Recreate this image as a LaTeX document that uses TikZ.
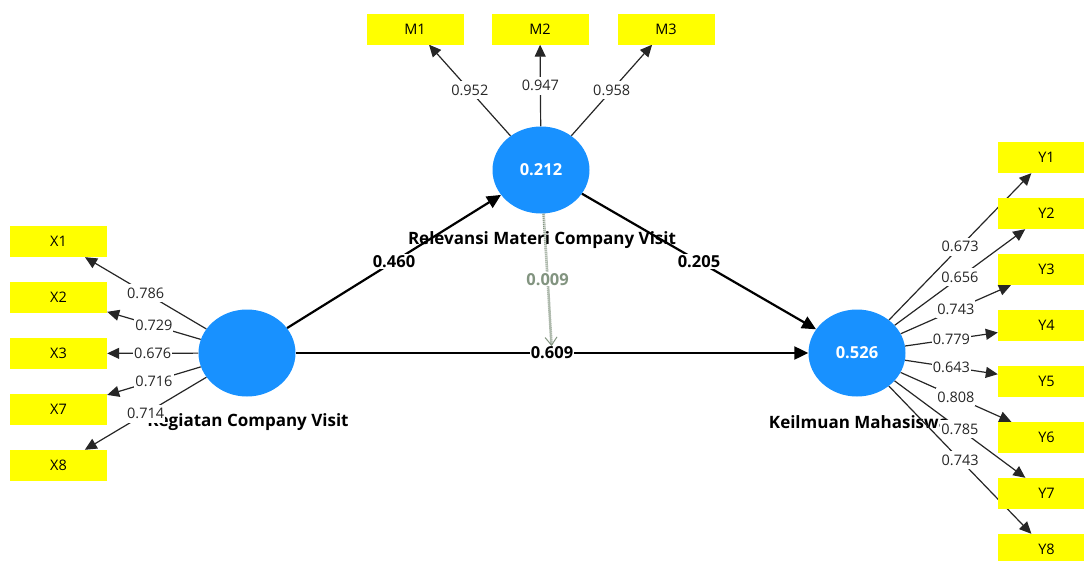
\documentclass[tikz,border=0pt]{standalone}
\usepackage{fontspec}
\setmainfont{Open Sans}
\usetikzlibrary{arrows.meta,calc,shapes.geometric}
\definecolor{lvblue}{RGB}{24,145,255}
\definecolor{indyellow}{RGB}{255,255,0}
\definecolor{modgray}{RGB}{130,148,128}
\pgfdeclarelayer{names}
\pgfdeclarelayer{edges}
\pgfsetlayers{names,edges,main}
\tikzset{
  ind/.style={rectangle, fill=indyellow, minimum width=97pt, minimum height=31pt, inner sep=0pt, font=\fontsize{14.5}{16}\selectfont},
  lv/.style={ellipse, fill=lvblue, minimum width=97pt, minimum height=87pt, inner sep=0pt, text=white, font=\bfseries\fontsize{16.5}{18}\selectfont},
  lvname/.style={font=\bfseries\fontsize{17}{19}\selectfont},
  load/.style={draw=black!85, line width=1.2pt, -{Triangle[length=12pt,width=11pt]}},
  loadlbl/.style={fill=white, inner sep=1pt, minimum height=18pt, font=\fontsize{14.5}{16}\selectfont, text=black!85},
  pathc/.style={draw=black, line width=2.2pt, -{Triangle[length=14pt,width=13pt]}},
  pathlbl/.style={fill=white, inner sep=1pt, font=\bfseries\fontsize{16.5}{18}\selectfont},
  modarrow/.style={draw=modgray, line width=2.6pt, dash pattern=on 1.1pt off 0.9pt, shorten >=7pt, -{Straight Barb[length=8pt,width=12pt,line width=1pt]}},
  modlbl/.style={fill=white, inner sep=1pt, text=modgray, font=\bfseries\fontsize{16.5}{18}\selectfont}
}
\begin{document}
\begin{tikzpicture}[x=1pt,y=-1pt]
\clip (0,0) rectangle (1084,560);
% latent variables
\node[lv] (K) at (247,353) {};
\node[lv] (R) at (541,170) {0.212};
\node[lv] (KM) at (857,353) {0.526};
% indicators
\node[ind] (M1) at (415,29) {M1};
\node[ind] (M2) at (540,29) {M2};
\node[ind] (M3) at (666,29) {M3};
\node[ind] (X1) at (58.5,241.5) {X1};
\node[ind] (X2) at (58.5,297.5) {X2};
\node[ind] (X3) at (58.5,353.5) {X3};
\node[ind] (X7) at (58.5,409.5) {X7};
\node[ind] (X8) at (58.5,465.5) {X8};
\node[ind] (Y1) at (1046.5,157.5) {Y1};
\node[ind] (Y2) at (1046.5,213.5) {Y2};
\node[ind] (Y3) at (1046.5,269.5) {Y3};
\node[ind] (Y4) at (1046.5,325.5) {Y4};
\node[ind] (Y5) at (1046.5,381.5) {Y5};
\node[ind] (Y6) at (1046.5,437.5) {Y6};
\node[ind] (Y7) at (1046.5,493.5) {Y7};
\node[ind] (Y8) at (1046.5,549.5) {Y8};
% latent names
\begin{pgfonlayer}{names}
\node[lvname] (Kname) at (248,422) {Kegiatan Company Visit};
\node[lvname] (Rname) at (542,240) {Relevansi Materi Company Visit};
\node[lvname] (KMname) at (859,422) {Keilmuan Mahasiswa};
\end{pgfonlayer}
% edges
\begin{pgfonlayer}{edges}
\draw[load] (R) -- node[loadlbl]{0.952} (M1);
\draw[load] (R) -- node[loadlbl]{0.947} (M2);
\draw[load] (R) -- node[loadlbl]{0.958} (M3);
\draw[load] (K) -- node[loadlbl]{0.786} (X1);
\draw[load] (K) -- node[loadlbl]{0.729} (X2);
\draw[load] (K) -- node[loadlbl]{0.676} (X3);
\draw[load] (K) -- node[loadlbl]{0.716} (X7);
\draw[load] (K) -- node[loadlbl]{0.714} (X8);
\draw[load] (KM) -- node[loadlbl]{0.673} (Y1);
\draw[load] (KM) -- node[loadlbl]{0.656} (Y2);
\draw[load] (KM) -- node[loadlbl]{0.743} (Y3);
\draw[load] (KM) -- node[loadlbl]{0.779} (Y4);
\draw[load] (KM) -- node[loadlbl]{0.643} (Y5);
\draw[load] (KM) -- node[loadlbl]{0.808} (Y6);
\draw[load] (KM) -- node[loadlbl]{0.785} (Y7);
\draw[load] (KM) -- node[loadlbl]{0.743} (Y8);
\draw[pathc] (K) -- node[pathlbl]{0.460} (R);
\draw[pathc] (R) -- node[pathlbl]{0.205} (KM);
\draw[pathc] (K) -- node[pathlbl] (p609) {0.609} (KM);
\coordinate (modend) at ($(K)!0.5!(KM)$);
\draw[modarrow] (R) -- node[modlbl, pos=0.47]{0.009} (modend);
\end{pgfonlayer}
\end{tikzpicture}
\end{document}
